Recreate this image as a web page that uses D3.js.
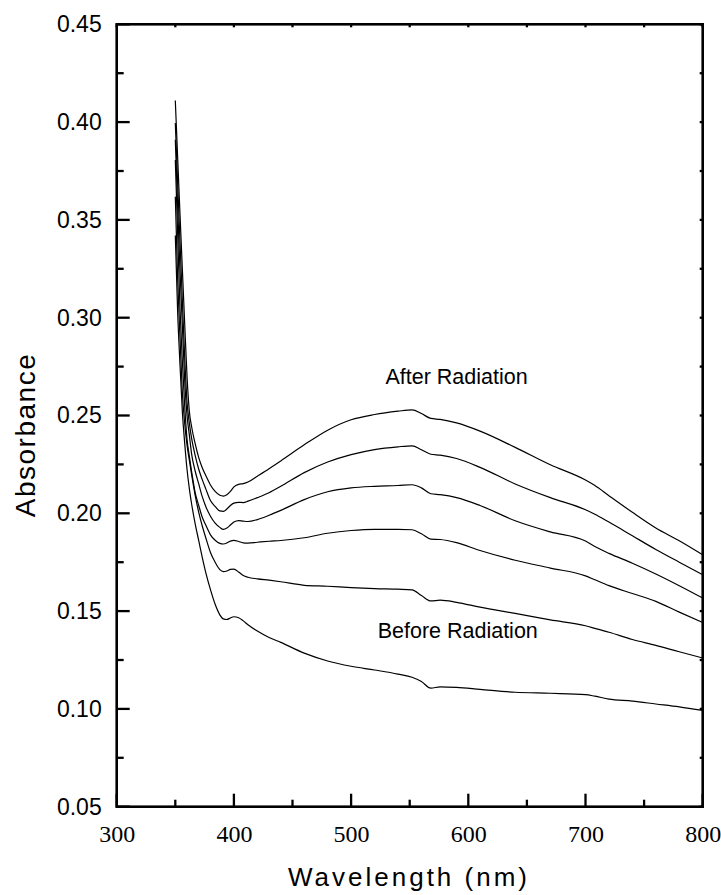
<!DOCTYPE html>
<html>
<head>
<meta charset="utf-8">
<script src="https://cdn.jsdelivr.net/npm/d3@7"></script>
<style>
  html, body { margin: 0; padding: 0; background: #fff; }
  svg { display: block; }
</style>
</head>
<body>
<div id="chart"></div>
<script>
// Wavelength grid (nm) shared by all spectra
const wavelengths = [350, 352, 354, 356, 358, 360, 362, 364, 367, 370, 373, 376, 380, 384, 388, 391, 394, 397, 400, 404, 408, 412, 420, 430, 440, 460, 480, 500, 520, 540, 552, 560, 568, 576, 590, 610, 640, 670, 700, 708, 720, 740, 760, 780, 800];

// Absorbance spectra, top (after radiation) to bottom (before radiation)
const spectrum1 = [0.411, 0.382, 0.353, 0.325, 0.297, 0.270, 0.252, 0.244, 0.2355, 0.2285, 0.2233, 0.2193, 0.2145, 0.2112, 0.2092, 0.2088, 0.2095, 0.2112, 0.2135, 0.2148, 0.2152, 0.2160, 0.2190, 0.2228, 0.2268, 0.2350, 0.2425, 0.2478, 0.2505, 0.2522, 0.2529, 0.2510, 0.2485, 0.2480, 0.2462, 0.2420, 0.2337, 0.2248, 0.2170, 0.2142, 0.2090, 0.2005, 0.1925, 0.1860, 0.1788];
const spectrum2 = [0.3995, 0.369, 0.339, 0.309, 0.280, 0.257, 0.246, 0.238, 0.2295, 0.2225, 0.2172, 0.2125, 0.2065, 0.2035, 0.2012, 0.2010, 0.2022, 0.2040, 0.2052, 0.2056, 0.2055, 0.2062, 0.2080, 0.2105, 0.2138, 0.2208, 0.2262, 0.2300, 0.2326, 0.2340, 0.2345, 0.2325, 0.2302, 0.2297, 0.2280, 0.2235, 0.2150, 0.2080, 0.2018, 0.1995, 0.1955, 0.1885, 0.1815, 0.1750, 0.1686];
const spectrum3 = [0.391, 0.357, 0.324, 0.296, 0.268, 0.250, 0.240, 0.230, 0.2215, 0.2150, 0.2085, 0.2035, 0.1985, 0.1950, 0.1928, 0.1918, 0.1925, 0.1940, 0.1955, 0.1963, 0.1960, 0.1958, 0.1968, 0.1990, 0.2015, 0.2070, 0.2110, 0.2130, 0.2138, 0.2142, 0.2146, 0.2130, 0.2100, 0.2095, 0.2080, 0.2040, 0.1962, 0.1905, 0.1858, 0.1830, 0.1795, 0.1745, 0.1690, 0.1630, 0.1567];
const spectrum4 = [0.3806, 0.343, 0.305, 0.278, 0.255, 0.238, 0.229, 0.221, 0.2105, 0.2040, 0.1980, 0.1940, 0.1890, 0.1862, 0.1846, 0.1843, 0.1848, 0.1858, 0.1862, 0.1856, 0.1849, 0.1848, 0.1852, 0.1857, 0.1861, 0.1875, 0.1898, 0.1912, 0.1918, 0.1918, 0.1916, 0.1895, 0.1868, 0.1866, 0.1850, 0.1810, 0.1760, 0.1720, 0.1680, 0.1660, 0.1630, 0.1590, 0.1550, 0.1495, 0.1442];
const spectrum5 = [0.3619, 0.320, 0.290, 0.262, 0.246, 0.235, 0.227, 0.2195, 0.2090, 0.2005, 0.1935, 0.1875, 0.1800, 0.1750, 0.1712, 0.1702, 0.1705, 0.1713, 0.1715, 0.1700, 0.1682, 0.1673, 0.1665, 0.1658, 0.1650, 0.1632, 0.1627, 0.1620, 0.1615, 0.1612, 0.1609, 0.1580, 0.1552, 0.1556, 0.1545, 0.1520, 0.1488, 0.1455, 0.1425, 0.1412, 0.1392, 0.1355, 0.1325, 0.1292, 0.1260];
const spectrum6 = [0.342, 0.303, 0.276, 0.252, 0.236, 0.2225, 0.2125, 0.2045, 0.1945, 0.1860, 0.1775, 0.1697, 0.1610, 0.1535, 0.1481, 0.1460, 0.1457, 0.1465, 0.1471, 0.1466, 0.1450, 0.1430, 0.1398, 0.1365, 0.1340, 0.1285, 0.1245, 0.1218, 0.1199, 0.1178, 0.1162, 0.1140, 0.1106, 0.1113, 0.1110, 0.1100, 0.1085, 0.1080, 0.1073, 0.1065, 0.1050, 0.1040, 0.1025, 0.1010, 0.0992];

const spectra = [spectrum1, spectrum2, spectrum3, spectrum4, spectrum5, spectrum6];

// Axis ticks
const xTicks = [300, 400, 500, 600, 700, 800];
const xMinorTicks = [350, 450, 550, 650, 750];
const yTicks = [0.05, 0.10, 0.15, 0.20, 0.25, 0.30, 0.35, 0.40, 0.45];
const yMinorTicks = [0.075, 0.125, 0.175, 0.225, 0.275, 0.325, 0.375, 0.425];

// Annotations (wavelength, absorbance at text baseline)
const annotationText = ["After Radiation", "Before Radiation"];
const annotationX = [590, 591];
const annotationY = [0.2662, 0.1365];

const X_LABEL = "Wavelength (nm)";
const Y_LABEL = "Absorbance";

const SANS = "'Liberation Sans', Arial, Helvetica, sans-serif";
const SERIF = "'Liberation Serif', 'Times New Roman', serif";

const MAJOR_TICK = 13;
const MINOR_TICK = 7;
const MIRROR_TICK = 3;

const WIDTH = 721;
const HEIGHT = 895;
const margin = { top: 24.3, right: 18.3, bottom: 88.3, left: 116.7 };
const innerW = WIDTH - margin.left - margin.right;
const innerH = HEIGHT - margin.top - margin.bottom;

const svg = d3.select("#chart")
    .append("svg")
    .attr("width", WIDTH)
    .attr("height", HEIGHT)
    .append("g")
    .attr("transform", `translate(${margin.left}, ${margin.top})`);

const x = d3.scaleLinear().domain([300, 800]).range([0, innerW]);
const y = d3.scaleLinear().domain([0.05, 0.45]).range([innerH, 0]);

// Axes give the labels; tick marks are drawn below as plain lines
const xAxisG = svg.append("g")
    .attr("transform", `translate(0,${innerH})`)
    .call(d3.axisBottom(x).tickValues(xTicks).tickSize(0).tickPadding(18).tickFormat(d3.format("d")));
xAxisG.selectAll("text")
    .attr("font-family", SERIF)
    .attr("font-size", 24)
    .attr("fill", "#000");

const yAxisG = svg.append("g")
    .call(d3.axisLeft(y).tickValues(yTicks).tickSize(0).tickPadding(15).tickFormat(d3.format(".2f")));
yAxisG.selectAll("text")
    .attr("font-family", SANS)
    .attr("font-size", 23)
    .attr("fill", "#000");

svg.selectAll(".domain").remove();

// Tick marks, all pointing into the plot
const ticks = svg.append("g")
    .attr("stroke", "#000")
    .attr("stroke-width", 2.3);

function addXTicks(values, len, atTop) {
    ticks.selectAll(null)
        .data(values)
        .enter()
        .append("line")
        .attr("x1", d => x(d))
        .attr("x2", d => x(d))
        .attr("y1", atTop ? 0 : innerH)
        .attr("y2", atTop ? len : innerH - len);
}

function addYTicks(values, len, atRight) {
    ticks.selectAll(null)
        .data(values)
        .enter()
        .append("line")
        .attr("y1", d => y(d))
        .attr("y2", d => y(d))
        .attr("x1", atRight ? innerW : 0)
        .attr("x2", atRight ? innerW - len : len);
}

addXTicks(xTicks, MAJOR_TICK, false);
addXTicks(xMinorTicks, MINOR_TICK, false);
addYTicks(yTicks, MAJOR_TICK, false);
addYTicks(yMinorTicks, MINOR_TICK, false);
addXTicks(xTicks.concat(xMinorTicks), MIRROR_TICK, true);
addYTicks(yTicks.concat(yMinorTicks), MIRROR_TICK, true);

// Frame
svg.append("rect")
    .attr("x", 0)
    .attr("y", 0)
    .attr("width", innerW)
    .attr("height", innerH)
    .attr("fill", "none")
    .attr("stroke", "#000")
    .attr("stroke-width", 2.6);

// Spectra
const line = d3.line()
    .curve(d3.curveMonotoneX)
    .x(d => x(d[0]))
    .y(d => y(d[1]));

svg.selectAll(".spectrum")
    .data(spectra)
    .enter()
    .append("path")
    .attr("class", "spectrum")
    .attr("d", s => line(wavelengths.map((w, i) => [w, s[i]])))
    .attr("fill", "none")
    .attr("stroke", "#000")
    .attr("stroke-width", 1.2)
    .attr("stroke-linejoin", "round");

// Annotations
svg.selectAll(".annotation")
    .data(annotationText)
    .enter()
    .append("text")
    .attr("class", "annotation")
    .attr("x", (d, i) => x(annotationX[i]))
    .attr("y", (d, i) => y(annotationY[i]))
    .attr("text-anchor", "middle")
    .attr("font-family", SANS)
    .attr("font-size", 21.5)
    .attr("fill", "#000")
    .text(d => d);

// Axis titles
svg.append("text")
    .attr("text-anchor", "middle")
    .attr("x", 409 - margin.left)
    .attr("y", 886 - margin.top)
    .attr("font-family", SANS)
    .attr("font-size", 26)
    .attr("letter-spacing", "3px")
    .attr("fill", "#000")
    .text(X_LABEL);

svg.append("text")
    .attr("text-anchor", "middle")
    .attr("transform", `translate(${35 - margin.left},${435 - margin.top}) rotate(-90)`)
    .attr("font-family", SANS)
    .attr("font-size", 28)
    .attr("letter-spacing", "1.5px")
    .attr("fill", "#000")
    .text(Y_LABEL);
</script>
</body>
</html>
